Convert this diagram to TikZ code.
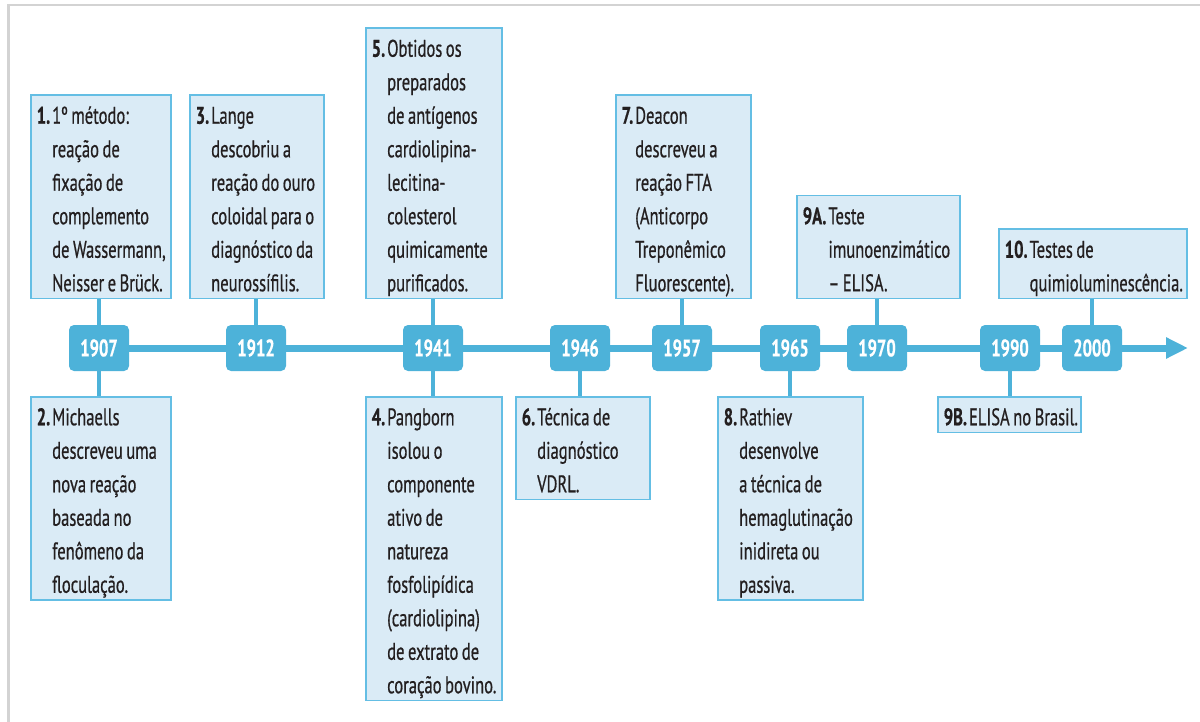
\documentclass[tikz,border=0pt]{standalone}
\usepackage{fontspec}
\setmainfont[FakeStretch=0.69, FakeBold=0.6]{PT Sans}
\usetikzlibrary{arrows.meta,backgrounds}

% body text of the event boxes: 24pt type on 33.5pt lines
\newcommand{\evtfont}{\fontsize{24}{33.5}\selectfont\setbox\strutbox\hbox{\vrule height 27.5pt depth 6pt width 0pt}}
\newcommand{\evt}[2]{\spaceskip=3.5pt plus 1pt\relax\begin{tabular}{@{}l@{\hspace{2pt}}l@{}}\textbf{#1} & #2\end{tabular}}

\begin{document}
\begin{tikzpicture}[x=1pt,y=-1pt,
	year/.style={fill=yearblue, rounded corners=5pt, minimum width=60pt, minimum height=46pt, inner sep=0pt, text=white, font=\fontsize{24}{28}\selectfont\bfseries},
	event/.style={fill=boxfill, draw=boxline, line width=1.5pt, inner xsep=6pt, inner ysep=1pt, align=left, text=textdark, font=\evtfont},
	stem/.style={draw=yearblue, line width=4pt},
	timeline/.style={draw=yearblue, line width=7pt, -{Triangle[length=22pt,width=20pt]}}]
	% Define custom colors
	\definecolor{yearblue}{RGB}{77, 178, 217}
	\definecolor{boxfill}{RGB}{218, 235, 246}
	\definecolor{boxline}{RGB}{100, 190, 228}
	\definecolor{textdark}{RGB}{35, 31, 32}
	\definecolor{framegray}{RGB}{211, 211, 211}
	\useasboundingbox (0,0) rectangle (1200,722);
	\draw[framegray, line width=2.5pt] (8.5,722) -- (8.5,5) -- (1200,5);
	% years on the axis
	\node[year] (y1907) at (99,348) {1907};
	\node[year] (y1912) at (256,348) {1912};
	\node[year] (y1941) at (433,348) {1941};
	\node[year] (y1946) at (580,348) {1946};
	\node[year] (y1957) at (682,348) {1957};
	\node[year] (y1965) at (790,348) {1965};
	\node[year] (y1970) at (877,348) {1970};
	\node[year] (y1990) at (1010,348) {1990};
	\node[year] (y2000) at (1092,348) {2000};
	\coordinate (tip) at (1188,348);
	\begin{scope}[on background layer]
		\draw[timeline] (y1907.center) -- (tip);
	\end{scope}
	% events above the axis
	\node[event, text width=128pt, anchor=south west] (b1) at (30,299)
		{\evt{1.}{1º método:\\ & reação de\\ & fixação de\\ & complemento\\ & de Wassermann,\\ & Neisser e Brück.}};
	\node[event, text width=122pt, anchor=south west] (b3) at (189,299)
		{\evt{3.}{Lange\\ & descobriu a\\ & reação do ouro\\ & coloidal para o\\ & diagnóstico da\\ & neurossífilis.}};
	\node[event, text width=124pt, anchor=south west] (b5) at (365,299)
		{\evt{5.}{Obtidos os\\ & preparados\\ & de antígenos\\ & cardiolipina-\\ & lecitina-\\ & colesterol\\ & quimicamente\\ & purificados.}};
	\node[event, text width=123pt, anchor=south west] (b7) at (615,299)
		{\evt{7.}{Deacon\\ & descreveu a\\ & reação FTA\\ & (Anticorpo\\ & Treponêmico\\ & Fluorescente).}};
	\node[event, text width=151pt, anchor=south west] (b9a) at (796,299)
		{\evt{9A.}{Teste\\ & imunoenzimático\\ & – ELISA.}};
	\node[event, text width=176pt, anchor=south west] (b10) at (998,299)
		{\evt{10.}{Testes de\\ & quimioluminescência.}};
	% events below the axis
	\node[event, text width=128pt, anchor=north west] (b2) at (30,396)
		{\evt{2.}{Michaells\\ & descreveu uma\\ & nova reação\\ & baseada no\\ & fenômeno da\\ & floculação.}};
	\node[event, text width=124pt, anchor=north west] (b4) at (365,396)
		{\evt{4.}{Pangborn\\ & isolou o\\ & componente\\ & ativo de\\ & natureza\\ & fosfolipídica\\ & (cardiolipina)\\ & de extrato de\\ & coração bovino.}};
	\node[event, text width=122pt, anchor=north west] (b6) at (515,396)
		{\evt{6.}{Técnica de\\ & diagnóstico\\ & VDRL.}};
	\node[event, text width=133pt, anchor=north west] (b8) at (717,396)
		{\evt{8.}{Rathiev\\ & desenvolve\\ & a técnica de\\ & hemaglutinação\\ & inidireta ou\\ & passiva.}};
	\node[event, text width=131pt, anchor=north west] (b9b) at (937,396)
		{\evt{9B.}{ELISA no Brasil.}};
	% stems from the years to their boxes
	\draw[stem] (y1907.north) -- (y1907.north |- b1.south);
	\draw[stem] (y1912.north) -- (y1912.north |- b3.south);
	\draw[stem] (y1941.north) -- (y1941.north |- b5.south);
	\draw[stem] (y1957.north) -- (y1957.north |- b7.south);
	\draw[stem] (y1970.north) -- (y1970.north |- b9a.south);
	\draw[stem] (y2000.north) -- (y2000.north |- b10.south);
	\draw[stem] (y1907.south) -- (y1907.south |- b2.north);
	\draw[stem] (y1941.south) -- (y1941.south |- b4.north);
	\draw[stem] (y1946.south) -- (y1946.south |- b6.north);
	\draw[stem] (y1965.south) -- (y1965.south |- b8.north);
	\draw[stem] (y1990.south) -- (y1990.south |- b9b.north);
\end{tikzpicture}
\end{document}
